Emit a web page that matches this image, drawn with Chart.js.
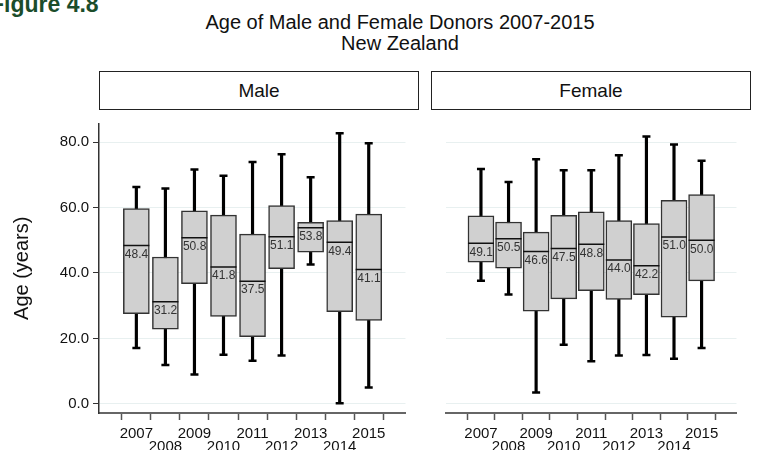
<!DOCTYPE html>
<html>
<head>
<meta charset="utf-8">
<script src="https://cdn.jsdelivr.net/npm/chart.js@4/dist/chart.umd.min.js"></script>
<style>
  body { margin: 0; background: #fff; font-family: "Liberation Sans", Arial, sans-serif; }
  #page { position: relative; width: 757px; height: 450px; overflow: hidden; }
  .fig { position: absolute; left: -10px; top: -7px; font-weight: bold; font-size: 23px; line-height: 23px; color: #1b4d2b; white-space: nowrap; }
  .title { position: absolute; left: 200px; width: 400px; top: 12px; text-align: center; font-size: 20px; line-height: 21px; color: #111; }
  .strip { position: absolute; top: 71px; height: 39px; width: 320px; box-sizing: border-box; border: 1px solid #222; text-align: center; font-size: 19px; line-height: 37px; color: #111; background: #fff; }
  .panel { position: absolute; top: 109px; height: 341px; }
</style>
</head>
<body>
<div id="page">
  <div class="fig">Figure 4.8</div>
  <div class="title">Age of Male and Female Donors 2007-2015<br>New Zealand</div>
  <div class="strip" style="left:99px">Male</div>
  <div class="strip" style="left:431px">Female</div>
  <canvas id="male" class="panel" style="left:0px" width="420" height="341"></canvas>
  <canvas id="female" class="panel" style="left:431px" width="320" height="341"></canvas>
</div>
<script>
// categories and tick labels
const years = ['2007', '2008', '2009', '2010', '2011', '2012', '2013', '2014', '2015'];
const yTicks = [0, 20, 40, 60, 80];

// male box plot values (years)
const maleMin    = [17.1, 11.9,  9.0, 15.0, 13.2, 14.8, 42.6,  0.2,  5.0];
const maleQ1     = [27.6, 22.8, 36.7, 26.7, 20.5, 41.3, 46.4, 28.2, 25.5];
const maleMedian = [48.4, 31.2, 50.8, 41.8, 37.5, 51.1, 53.8, 49.4, 41.1];
const maleQ3     = [59.7, 44.9, 59.0, 57.7, 51.9, 60.6, 55.5, 56.0, 58.0];
const maleMax    = [66.3, 65.8, 71.6, 69.7, 73.9, 76.3, 69.3, 82.7, 79.7];

// female box plot values (years)
const femaleMin    = [37.6, 33.4,  3.5, 18.1, 13.0, 14.8, 14.9, 13.8, 17.1];
const femaleQ1     = [43.3, 41.5, 28.3, 32.1, 34.6, 31.9, 33.4, 26.5, 37.6];
const femaleMedian = [49.1, 50.5, 46.6, 47.5, 48.8, 44.0, 42.2, 51.0, 50.0];
const femaleQ3     = [57.5, 55.6, 52.5, 57.6, 58.7, 56.0, 55.1, 62.2, 64.0];
const femaleMax    = [71.8, 67.8, 74.8, 71.4, 71.4, 76.0, 81.7, 79.3, 74.3];

Chart.defaults.font.family = '"Liberation Sans", Arial, sans-serif';

// writes the median value just under each median line
const medianLabels = {
  id: 'medianLabels',
  afterDatasetsDraw(chart, args, opts) {
    const ctx = chart.ctx;
    const x = chart.scales.x, y = chart.scales.y;
    ctx.save();
    ctx.font = '12px "Liberation Sans", Arial, sans-serif';
    ctx.fillStyle = '#333';
    ctx.textBaseline = 'top';
    opts.values.forEach((v, i) => {
      ctx.fillText(v.toFixed(1), x.getPixelForValue(i) - 11.5, y.getPixelForValue(v) + 3);
    });
    ctx.restore();
  }
};

function makePanel(id, mins, q1s, meds, q3s, maxs, showY) {
  const stems = mins.map((v, i) => ({x: i, y: [v, maxs[i]]}));
  const boxes = q1s.map((v, i) => ({x: i, y: [v, q3s[i]]}));
  const medPts = meds.map((v, i) => ({x: i, y: v}));
  const capPts = mins.map((v, i) => ({x: i, y: v})).concat(maxs.map((v, i) => ({x: i, y: v})));

  return new Chart(document.getElementById(id), {
    type: 'bar',
    data: {
      datasets: [
        {data: stems, backgroundColor: '#000', borderWidth: 0, barThickness: 2.5, grouped: false, order: 4},
        {data: boxes, backgroundColor: '#d0d0d0', borderColor: '#333', borderWidth: 1.5, borderSkipped: false,
         barThickness: 26, grouped: false, order: 3},
        {type: 'scatter', data: medPts, pointStyle: 'line', pointRadius: 13, borderColor: '#111', borderWidth: 1.5, order: 2},
        {type: 'scatter', data: capPts, pointStyle: 'line', pointRadius: 4, borderColor: '#000', borderWidth: 2.5, order: 1}
      ]
    },
    options: {
      responsive: false,
      animation: false,
      layout: {padding: {left: 0, right: showY ? 1 : 0, top: 0, bottom: 0}},
      plugins: {
        legend: {display: false},
        tooltip: {enabled: false},
        medianLabels: {values: meds}
      },
      scales: {
        x: {
          type: 'linear', min: -0.7, max: 8.68,
          afterBuildTicks: s => { s.ticks = years.map((yr, i) => ({value: i})); },
          afterFit: s => { s.height = 37; s.paddingLeft = 0; s.paddingRight = 0; },
          ticks: {
            autoSkip: false, maxRotation: 0, padding: 7, color: '#111',
            font: {size: 15, lineHeight: 0.9},
            callback: v => v % 2 === 0 ? years[v] : ['', years[v]]
          },
          grid: {drawOnChartArea: false, tickLength: 7, tickColor: '#555', tickWidth: 1.5},
          border: {color: '#666', width: 2}
        },
        y: {
          min: -2.8, max: 85.7,
          afterBuildTicks: s => { s.ticks = yTicks.map(v => ({value: v})); },
          afterFit: s => { s.width = showY ? 99 : 0; s.paddingTop = 0; s.paddingBottom = 0; },
          ticks: {display: showY, padding: 4, color: '#111', font: {size: 15}, callback: v => v.toFixed(1)},
          grid: {color: '#e8f0f0', drawTicks: showY, tickLength: 6, tickColor: '#333'},
          border: {display: showY, color: '#333', width: 1.5},
          title: {display: showY, text: 'Age (years)', color: '#111', font: {size: 20}, padding: {top: 10, bottom: 0}}
        }
      }
    },
    plugins: [medianLabels]
  });
}

makePanel('male', maleMin, maleQ1, maleMedian, maleQ3, maleMax, true);
makePanel('female', femaleMin, femaleQ1, femaleMedian, femaleQ3, femaleMax, false);
</script>
</body>
</html>
